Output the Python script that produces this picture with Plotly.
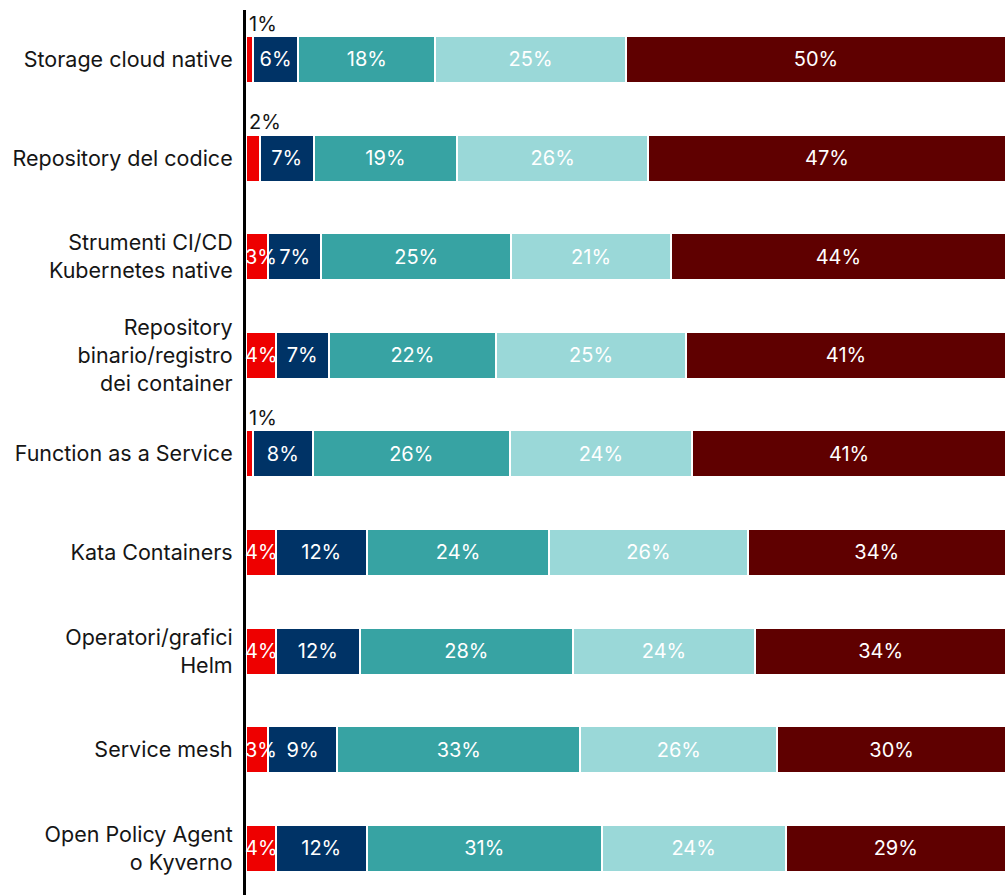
import plotly.graph_objects as go

categories = [
    "Storage cloud native",
    "Repository del codice",
    "Strumenti CI/CD<br>Kubernetes native",
    "Repository<br>binario/registro<br>dei container",
    "Function as a Service",
    "Kata Containers",
    "Operatori/grafici<br>Helm",
    "Service mesh",
    "Open Policy Agent<br>o Kyverno",
]

# estimated segment sizes (percent)
seg1 = [0.9, 1.8, 2.9, 3.9, 0.9, 3.9, 3.9, 2.9, 3.9]
seg2 = [6.0, 7.1, 7.0, 7.0, 7.9, 12.0, 11.1, 9.1, 12.0]
seg3 = [18.0, 18.9, 25.0, 22.0, 25.9, 24.0, 28.0, 32.0, 30.9]
seg4 = [25.1, 25.1, 21.0, 25.0, 24.0, 26.1, 24.0, 25.9, 24.2]
seg5 = [50.0, 47.1, 44.1, 42.1, 41.3, 34.0, 33.0, 30.1, 29.0]

# labels as printed on the chart
lab1 = ["1%", "2%", "3%", "4%", "1%", "4%", "4%", "3%", "4%"]
lab2 = ["6%", "7%", "7%", "7%", "8%", "12%", "12%", "9%", "12%"]
lab3 = ["18%", "19%", "25%", "22%", "26%", "24%", "28%", "33%", "31%"]
lab4 = ["25%", "26%", "21%", "25%", "24%", "26%", "24%", "26%", "24%"]
lab5 = ["50%", "47%", "44%", "41%", "41%", "34%", "34%", "30%", "29%"]

colors = ["#EE0000", "#003366", "#37A3A3", "#9AD8D8", "#5F0000"]

FONT = "Inter"

fig = go.Figure()
series = [seg1, seg2, seg3, seg4, seg5]
labels = [lab1, lab2, lab3, lab4, lab5]
for i, (vals, labs) in enumerate(zip(series, labels)):
    txt = None if i == 0 else labs
    fig.add_trace(go.Bar(
        y=categories, x=vals, orientation="h",
        marker=dict(color=colors[i], line=dict(color="white", width=2)),
        width=0.477,
        text=txt, textposition="inside", insidetextanchor="middle",
        constraintext="none", textangle=0, cliponaxis=False,
        textfont=dict(color="white", size=20, family=FONT),
        hoverinfo="skip", showlegend=False,
    ))

# first-segment labels: small ones above the bar, others over the red segment
for cat, v, l in zip(categories, seg1, lab1):
    if v < 2.5:
        fig.add_annotation(
            x=0, y=cat, text=l, showarrow=False,
            xanchor="left", yanchor="bottom", xshift=1, yshift=22,
            font=dict(color="#151515", size=20, family=FONT),
        )
    else:
        fig.add_annotation(
            x=0, y=cat, text=l, showarrow=False,
            xanchor="left", yanchor="middle", xshift=-3,
            font=dict(color="white", size=20, family=FONT),
        )

fig.update_layout(
    barmode="stack",
    width=1007, height=895,
    margin=dict(l=246, r=1, t=10, b=0),
    plot_bgcolor="white", paper_bgcolor="white",
    xaxis=dict(range=[0, 100], visible=False, fixedrange=True),
    yaxis=dict(
        categoryorder="array", categoryarray=categories,
        range=[8.474, -0.502],
        showline=True, linecolor="black", linewidth=3,
        showgrid=False, zeroline=False, ticks="",
        ticklabelstandoff=6,
        tickfont=dict(size=21.5, color="#151515", family=FONT),
    ),
)

fig.write_html("out.html")
